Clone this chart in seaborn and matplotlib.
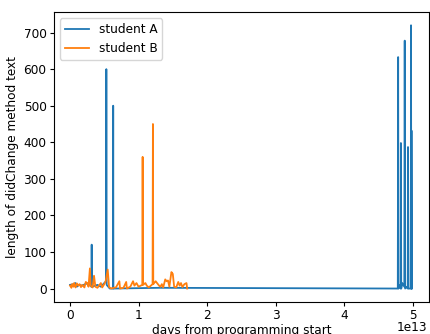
import matplotlib
matplotlib.use("Agg")
import matplotlib.pyplot as plt
import matplotlib.transforms as mtransforms
import seaborn as sns
import pandas as pd

# time since programming start (raw units, shown with 1e13 offset)
a_x = [0.00, 0.05, 0.08, 0.10, 0.13, 0.18, 0.22, 0.27, 0.31, 0.316, 0.322, 0.40, 0.45,
       0.50, 0.525, 0.53, 0.535, 0.58, 0.627, 0.63, 0.633, 1.31, 4.785, 4.79, 4.795,
       4.82, 4.828, 4.83, 4.835, 4.85, 4.88, 4.886, 4.892, 4.92, 4.93, 4.934, 4.94,
       4.974, 4.978, 4.982, 4.985, 4.99]
a_y = [10, 12, 15, 5, 10, 8, 12, 15, 5, 120, 5, 10, 5,
       15, 20, 600, 10, 0, 0, 500, 0, 2, 0, 633, 0,
       10, 0, 398, 0, 15, 5, 678, 0, 5, 0, 387, 0,
       0, 720, 0, 432, 0]

b_x = [0.00, 0.02, 0.03, 0.05, 0.06, 0.08, 0.10, 0.12, 0.14, 0.16, 0.18, 0.21, 0.23,
       0.25, 0.27, 0.29, 0.30, 0.33, 0.35, 0.37, 0.40, 0.43, 0.45, 0.47, 0.50, 0.52,
       0.55, 0.57, 0.60, 0.64, 0.67, 0.72, 0.73, 0.78, 0.82, 0.83, 0.88, 0.92, 0.94,
       0.97, 1.00, 1.055, 1.06, 1.065, 1.10, 1.12, 1.15, 1.205, 1.21, 1.215, 1.25, 1.27,
       1.30, 1.32, 1.34, 1.36, 1.39, 1.41, 1.43, 1.45, 1.48, 1.50, 1.52, 1.55, 1.58,
       1.60, 1.62, 1.64, 1.67, 1.70, 1.71]
b_y = [8, 2, 12, 5, 15, 3, 14, 8, 12, 4, 10, 3, 18,
       15, 5, 55, 8, 3, 35, 5, 2, 10, 15, 3, 12, 20,
       52, 4, 0, 2, 3, 20, 0, 2, 18, 0, 5, 20, 8,
       15, 5, 10, 360, 10, 15, 8, 3, 12, 450, 12, 20, 15,
       8, 5, 12, 3, 25, 20, 22, 5, 45, 40, 5, 3, 18,
       8, 15, 4, 12, 15, 0]

df_a = pd.DataFrame({"t": [v * 1e13 for v in a_x], "len": a_y})
df_b = pd.DataFrame({"t": [v * 1e13 for v in b_x], "len": b_y})

plt.rcParams["font.size"] = 8.7
for k in ("xtick", "ytick"):
    plt.rcParams[k + ".major.size"] = 2.7
    plt.rcParams[k + ".major.pad"] = 2.7

fig = plt.figure(figsize=(4.3, 3.34), dpi=100)
ax = fig.add_axes([0.1256, 0.0967, 0.872, 0.867])

sns.lineplot(data=df_a, x="t", y="len", ax=ax, color="#1f77b4", lw=1.3,
             label="student A", estimator=None, sort=False)
sns.lineplot(data=df_b, x="t", y="len", ax=ax, color="#ff7f0e", lw=1.3,
             label="student B", estimator=None, sort=False)

ax.set_xlim(-0.234e13, 5.24e13)
ax.set_ylim(-36, 756)
ax.set_xlabel("days from programming start", labelpad=1)
ax.set_ylabel("length of didChange method text", labelpad=3)
ax.legend(loc="upper left")

# nudge the 1e13 offset label up so it stays inside the picture
off = ax.xaxis.get_offset_text()
off.set_transform(off.get_transform() + mtransforms.ScaledTranslation(-0.02, 0.05, fig.dpi_scale_trans))

fig.savefig("out.png", dpi=100)
